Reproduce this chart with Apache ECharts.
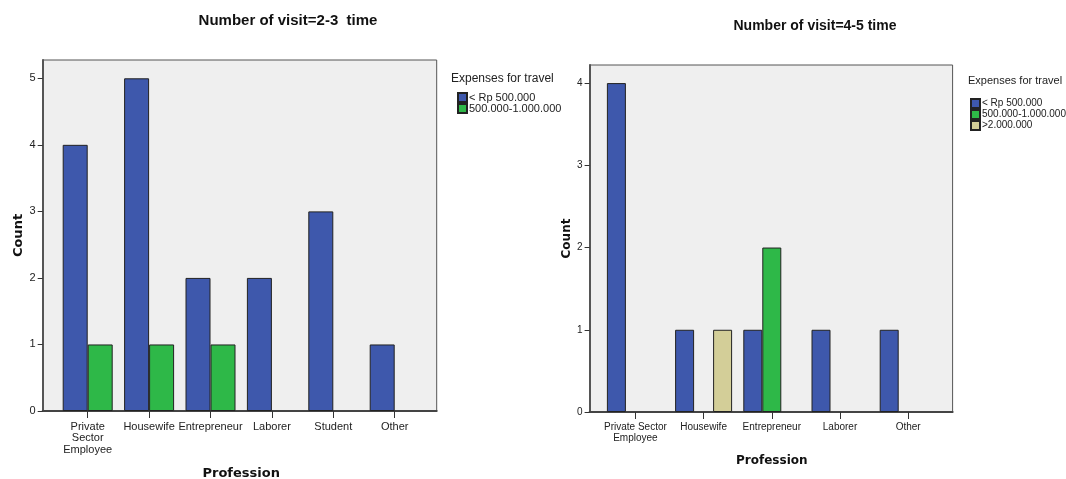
<!DOCTYPE html>
<html>
<head>
<meta charset="utf-8">
<script src="https://cdn.jsdelivr.net/npm/echarts@6/dist/echarts.min.js"></script>
<style>
html,body{margin:0;padding:0;background:#fff;}
#chart{width:1066px;height:479px;}
</style>
</head>
<body>
<div id="chart"></div>
<script>
// ---- data ----
const titleLeft = 'Number of visit=2-3  time';
const titleRight = 'Number of visit=4-5 time';
const legendTitle = 'Expenses for travel';
const seriesNames = ['< Rp 500.000', '500.000-1.000.000', '>2.000.000'];

const categoriesLeft = ['Private\nSector\nEmployee', 'Housewife', 'Entrepreneur', 'Laborer', 'Student', 'Other'];
const leftLow = [4, 5, 2, 2, 3, 1];
const leftMid = [1, 1, 1, null, null, null];

const categoriesRight = ['Private Sector\nEmployee', 'Housewife', 'Entrepreneur', 'Laborer', 'Other'];
const rightLow = [4, 1, 1, 1, 1];
const rightMid = [null, null, 2, null, null];
const rightHigh = [null, 1, null, null, null];

const yTicksLeft = [0, 1, 2, 3, 4, 5];
const yTicksRight = [0, 1, 2, 3, 4];

// ---- styles ----
const FONT = 'Liberation Sans';
const colors = ['#3e58ac', '#2eb848', '#d3ce98'];
const plotBg = '#efefef';

const chart = echarts.init(document.getElementById('chart'), null, {renderer: 'canvas'});

function boxAxes(gridIndex) {
  return {
    x: {type: 'value', gridIndex, min: 0, max: 1, show: true,
        axisLine: {show: true, onZero: false, lineStyle: {color: '#444', width: 2}},
        axisTick: {show: false}, axisLabel: {show: false}, splitLine: {show: false}},
    y: {type: 'value', gridIndex, min: 0, max: 1, show: true,
        axisLine: {show: true, onZero: false, lineStyle: {color: '#555', width: 2}},
        axisTick: {show: false}, axisLabel: {show: false}, splitLine: {show: false}}
  };
}
const b0 = boxAxes(0), b2 = boxAxes(2);

function catAxis(gridIndex, data, nameGap, fs, nfs, margin) {
  return {
    type: 'category', gridIndex, data,
    name: 'Profession', nameLocation: 'middle', nameGap,
    nameTextStyle: {fontFamily: 'DejaVu Sans', fontWeight: 'bold', fontSize: nfs, color: '#111'},
    axisLine: {show: false},
    axisTick: {show: true, alignWithLabel: true, length: 7, lineStyle: {color: '#333', width: 1}},
    axisLabel: {interval: 0, margin, fontFamily: FONT, fontSize: fs, color: '#222', lineHeight: fs + 0.5},
    splitLine: {show: false}
  };
}
function valAxis(gridIndex, max, ticks, offset, nameGap, fs, nfs) {
  return {
    type: 'value', gridIndex, min: 0, max, offset,
    name: 'Count', nameLocation: 'middle', nameGap, nameRotate: 90,
    nameTextStyle: {fontFamily: 'DejaVu Sans', fontWeight: 'bold', fontSize: nfs, color: '#111'},
    axisLine: {show: false},
    axisTick: {show: true, length: 5, customValues: ticks, lineStyle: {color: '#333'}},
    axisLabel: {customValues: ticks, margin: 7, fontFamily: FONT, fontSize: fs, color: '#222',
                formatter: v => (Number.isInteger(v) ? String(v) : '')},
    splitLine: {show: false}
  };
}

function barSeries(name, data, xi, yi, ci, width) {
  return {
    type: 'bar', name, data, xAxisIndex: xi, yAxisIndex: yi,
    barWidth: width, barGap: '0%',
    itemStyle: {color: colors[ci], borderColor: '#222', borderWidth: 1},
    emphasis: {disabled: true}
  };
}

function legendOf(names, left, top, fs) {
  return {
    data: names, left, top,
    orient: 'vertical', itemWidth: 9, itemHeight: 9, itemGap: 0, icon: 'rect', padding: 0,
    selectedMode: false,
    textStyle: {fontFamily: FONT, fontSize: fs, lineHeight: 10, color: '#222', padding: [0, 0, 0, -3]}
  };
}

const option = {
  animation: false,
  backgroundColor: '#fff',
  title: [
    {text: titleLeft, left: 288, top: 13, textAlign: 'center', padding: 0,
     textStyle: {fontFamily: FONT, fontWeight: 'bold', fontSize: 15, color: '#111'}},
    {text: titleRight, left: 815, top: 19, textAlign: 'center', padding: 0,
     textStyle: {fontFamily: FONT, fontWeight: 'bold', fontSize: 14, color: '#111'}},
    {text: legendTitle, left: 451, top: 72.5, padding: 0,
     textStyle: {fontFamily: FONT, fontWeight: 'normal', fontSize: 12, color: '#222'}},
    {text: legendTitle, left: 968, top: 75.5, padding: 0,
     textStyle: {fontFamily: FONT, fontWeight: 'normal', fontSize: 11, color: '#222'}}
  ],
  legend: [
    legendOf(seriesNames.slice(0, 2), 457, 92, 11),
    legendOf(seriesNames.slice(0, 3), 970, 98, 10)
  ],
  grid: [
    {left: 42.7, top: 60, width: 394, height: 351, show: true, backgroundColor: plotBg,
     borderColor: '#555', borderWidth: 1, outerBoundsMode: 'none', containLabel: false},
    {left: 57, top: 60, width: 368.4, height: 351, show: false, outerBoundsMode: 'none', containLabel: false},
    {left: 589.6, top: 65, width: 363, height: 347, show: true, backgroundColor: plotBg,
     borderColor: '#555', borderWidth: 1, outerBoundsMode: 'none', containLabel: false},
    {left: 601.3, top: 65, width: 341, height: 347, show: false, outerBoundsMode: 'none', containLabel: false}
  ],
  xAxis: [
    b0.x,
    catAxis(1, categoriesLeft, 56, 11, 13, 10),
    b2.x,
    catAxis(3, categoriesRight, 43, 10, 12, 10)
  ],
  yAxis: [
    b0.y,
    valAxis(1, 5.275, yTicksLeft, 14.3, 18, 11, 13),
    b2.y,
    valAxis(3, 4.22, yTicksRight, 11.7, 16, 10, 12)
  ],
  series: [
    barSeries(seriesNames[0], leftLow, 1, 1, 0, 25),
    barSeries(seriesNames[1], leftMid, 1, 1, 1, 25),
    barSeries(seriesNames[0], rightLow, 3, 3, 0, 19),
    barSeries(seriesNames[1], rightMid, 3, 3, 1, 19),
    barSeries(seriesNames[2], rightHigh, 3, 3, 2, 19)
  ]
};
chart.setOption(option);
</script>
</body>
</html>
